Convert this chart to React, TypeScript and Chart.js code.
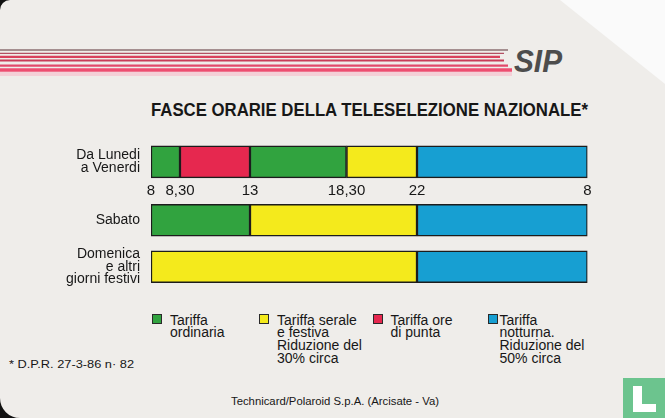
import React, { useEffect, useRef } from 'react';
import { Chart, registerables, LinearScale } from 'chart.js';

Chart.register(...registerables);

// ---------------- data ----------------
const hourStops = [8, 8.5, 13, 18.5, 22, 32];
const hourStopLabels = ['8', '8,30', '13', '18,30', '22', '8'];

const weekdayLabel = ['Da Lunedi', 'a Venerdi'];
const weekdayStarts = [8, 8.5, 13, 18.5, 22];
const weekdayEnds = [8.5, 13, 18.5, 22, 32];
const weekdayTariffs = ['ordinaria', 'punta', 'ordinaria', 'serale', 'notturna'];

const saturdayLabel = ['Sabato'];
const saturdayStarts = [8, 13, 22];
const saturdayEnds = [13, 22, 32];
const saturdayTariffs = ['ordinaria', 'serale', 'notturna'];

const holidayLabel = ['Domenica', 'e altri', 'giorni festivi'];
const holidayStarts = [8, 22];
const holidayEnds = [22, 32];
const holidayTariffs = ['serale', 'notturna'];

const tariffKeys = ['ordinaria', 'serale', 'punta', 'notturna'];
const tariffColors = ['#31a33f', '#f4ea1c', '#e6284f', '#179fd2'];
const tariffTexts = [
  ['Tariffa', 'ordinaria'],
  ['Tariffa serale', 'e festiva', 'Riduzione del', '30% circa'],
  ['Tariffa ore', 'di punta'],
  ['Tariffa', 'notturna.', 'Riduzione del', '50% circa'],
];

const titleText = 'FASCE ORARIE DELLA TELESELEZIONE NAZIONALE*';
const footnoteText = '* D.P.R. 27-3-86 n· 82';
const printerText = 'Technicard/Polaroid S.p.A. (Arcisate - Va)';

// ---------------- schematic (non-linear) hour axis ----------------
// fraction of the strip width where each hour stop is drawn on the card
const STRIP_FRACTIONS = [0, 0.0664, 0.2268, 0.4479, 0.6094, 1];

function hourToDecimal(v: number) {
  const vs = hourStops;
  const fs = STRIP_FRACTIONS;
  if (v <= vs[0]) return fs[0];
  for (let i = 0; i < vs.length - 1; i++) {
    if (v <= vs[i + 1]) return fs[i] + ((fs[i + 1] - fs[i]) * (v - vs[i])) / (vs[i + 1] - vs[i]);
  }
  return fs[fs.length - 1];
}
function decimalToHour(d: number) {
  const vs = hourStops;
  const fs = STRIP_FRACTIONS;
  if (d <= fs[0]) return vs[0];
  for (let i = 0; i < fs.length - 1; i++) {
    if (d <= fs[i + 1]) return vs[i] + ((vs[i + 1] - vs[i]) * (d - fs[i])) / (fs[i + 1] - fs[i]);
  }
  return vs[vs.length - 1];
}

class SchematicScale extends (LinearScale as any) {
  static id = 'schematic';
  static defaults = (LinearScale as any).defaults;
  buildTicks() {
    return hourStops.map((v) => ({ value: v }));
  }
  getPixelForValue(value: any) {
    if (value === null || value === undefined || Number.isNaN(+value)) return NaN;
    return (this as any).getPixelForDecimal(hourToDecimal(+value));
  }
  getValueForPixel(pixel: number) {
    return decimalToHour((this as any).getDecimalForPixel(pixel));
  }
}
Chart.register(SchematicScale as any);

// ---------------- styling ----------------
const FONT = "'Liberation Sans', Arial, sans-serif";
const INK = '#171717';
const CARD_BG = '#efedea';
const colorOf = (t: string) => tariffColors[tariffKeys.indexOf(t)];

type Row = { starts: number[]; ends: number[]; tariffs: string[] };

function buildDatasets(rows: Row[]) {
  const n = Math.max(...rows.map((r) => r.starts.length));
  const ds: any[] = [];
  for (let i = 0; i < n; i++) {
    ds.push({
      label: 'segment ' + (i + 1),
      data: rows.map((r) => (i < r.starts.length ? [r.starts[i], r.ends[i]] : null)),
      backgroundColor: rows.map((r) => (i < r.tariffs.length ? colorOf(r.tariffs[i]) : 'transparent')),
      borderColor: '#1c1c1c',
      borderWidth: 1.5,
      borderSkipped: false,
      grouped: false,
      barThickness: 32,
    });
  }
  return ds;
}

function makeConfig(labels: any[], rows: Row[], showX: boolean, padTop: number): any {
  return {
    type: 'bar',
    data: { labels, datasets: buildDatasets(rows) },
    options: {
      indexAxis: 'y',
      responsive: false,
      maintainAspectRatio: false,
      animation: false,
      events: [],
      layout: { padding: { left: 0, right: 77.5, top: padTop, bottom: 0 } },
      plugins: { legend: { display: false }, tooltip: { enabled: false }, title: { display: false } },
      scales: {
        x: {
          type: 'schematic',
          min: 8,
          max: 32,
          display: showX,
          grid: { display: false, drawTicks: false, tickLength: 0 },
          border: { display: false },
          afterFit: (s: any) => {
            s.paddingLeft = 0;
            s.paddingRight = 0;
          },
          ticks: {
            autoSkip: false,
            maxRotation: 0,
            minRotation: 0,
            padding: 2,
            color: INK,
            font: { family: FONT, size: 15 },
            callback: (v: any) => {
              const i = hourStops.indexOf(+v);
              return i >= 0 ? hourStopLabels[i] : '';
            },
          },
        },
        y: {
          type: 'category',
          grid: { display: false, drawTicks: false, tickLength: 0 },
          border: { display: false },
          afterFit: (s: any) => {
            s.width = 151;
            s.paddingTop = 0;
            s.paddingBottom = 0;
          },
          ticks: {
            padding: 11,
            color: INK,
            font: { family: FONT, size: 14, lineHeight: 0.9 },
          },
        },
      },
    },
  };
}

const legendLayout = [
  { sq: 152, tx: 170 },
  { sq: 259, tx: 277 },
  { sq: 372.5, tx: 390.5 },
  { sq: 487.5, tx: 499.5 },
];

const stripes = [
  { y: 50, w: 1.3, c: '#8d6f72', end: 508 },
  { y: 53.3, w: 1.3, c: '#b45064', end: 504 },
  { y: 56.8, w: 2.2, c: '#d9415d', end: 500 },
  { y: 60.5, w: 2.2, c: '#c93b57', end: 504 },
  { y: 65.7, w: 2.2, c: '#e2486a', end: 508 },
  { y: 70, w: 3.4, c: '#ee4d70', end: 512 },
];

export default function App() {
  const topRef = useRef<HTMLCanvasElement>(null);
  const bottomRef = useRef<HTMLCanvasElement>(null);

  useEffect(() => {
    document.body.style.margin = '0';
    const c1 = new Chart(
      topRef.current as HTMLCanvasElement,
      makeConfig([weekdayLabel], [{ starts: weekdayStarts, ends: weekdayEnds, tariffs: weekdayTariffs }], true, 3.8)
    );
    const c2 = new Chart(
      bottomRef.current as HTMLCanvasElement,
      makeConfig(
        [saturdayLabel, holidayLabel],
        [
          { starts: saturdayStarts, ends: saturdayEnds, tariffs: saturdayTariffs },
          { starts: holidayStarts, ends: holidayEnds, tariffs: holidayTariffs },
        ],
        false,
        0
      )
    );
    return () => {
      c1.destroy();
      c2.destroy();
    };
  }, []);

  return (
    <div
      style={{
        position: 'fixed',
        left: 0,
        top: 0,
        width: 665,
        height: 418,
        overflow: 'hidden',
        background: CARD_BG,
        fontFamily: FONT,
      }}
    >
      <svg width={665} height={418} style={{ position: 'absolute', left: 0, top: 0 }}>
        {/* cut corner at top right */}
        <polygon points="560,0 665,0 665,84" fill="#fafafa" />
        {/* rounded card corners */}
        <path d="M0,10 A10,10 0 0 1 10,0 L0,0 Z" fill="#111" />
        <path d="M0,398 A20,20 0 0 0 20,418 L0,418 Z" fill="#111" />
        {/* SIP stripes */}
        <rect x={0} y={72} width={512} height={4} fill="#f6c3cf" opacity={0.7} />
        {stripes.map((s, i) => (
          <line key={i} x1={0} y1={s.y} x2={s.end} y2={s.y} stroke={s.c} strokeWidth={s.w} />
        ))}
        <text
          x={514}
          y={72}
          fontFamily={FONT}
          fontStyle="italic"
          fontWeight="bold"
          fontSize={32}
          textLength={48}
          lengthAdjust="spacingAndGlyphs"
          fill="#4d4d4d"
        >
          SIP
        </text>
        {/* title */}
        <text
          x={151}
          y={116}
          fontFamily="'Liberation Sans Narrow', 'Liberation Sans', Arial, sans-serif"
          fontWeight="bold"
          fontSize={18.5}
          textLength={437}
          lengthAdjust="spacingAndGlyphs"
          fill={INK}
        >
          {titleText}
        </text>
        <text x={9} y={368} fontFamily={FONT} fontSize={11.5} textLength={125} lengthAdjust="spacingAndGlyphs" fill={INK}>
          {footnoteText}
        </text>
        <text x={231} y={405} fontFamily={FONT} fontSize={11} textLength={208} lengthAdjust="spacingAndGlyphs" fill={INK}>
          {printerText}
        </text>
        {/* watermark block */}
        <rect x={623} y={378} width={42} height={40} fill="#6cc48e" />
        <path d="M633,386 h9 v18 h14 v8 h-23 Z" fill="#ffffff" />
      </svg>
      <canvas ref={topRef} width={665} height={62} style={{ position: 'absolute', left: 0, top: 140 }} />
      <canvas ref={bottomRef} width={665} height={93} style={{ position: 'absolute', left: 0, top: 197 }} />
      {tariffKeys.map((k, i) => (
        <React.Fragment key={k}>
          <div
            style={{
              position: 'absolute',
              left: legendLayout[i].sq,
              top: 314,
              width: 8,
              height: 8,
              background: tariffColors[i],
              border: '1.2px solid #2a2a2a',
            }}
          />
          <div
            style={{
              position: 'absolute',
              left: legendLayout[i].tx,
              top: 313.5,
              fontSize: 14,
              lineHeight: '12.67px',
              color: INK,
              whiteSpace: 'nowrap',
            }}
          >
            {tariffTexts[i].map((t, j) => (
              <div key={j}>{t}</div>
            ))}
          </div>
        </React.Fragment>
      ))}
    </div>
  );
}
